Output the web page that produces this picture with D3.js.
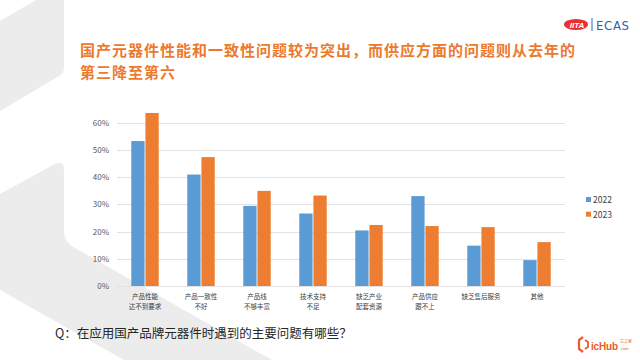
<!DOCTYPE html>
<html><head><meta charset="utf-8">
<script src="https://cdn.jsdelivr.net/npm/d3@7"></script>
<style>
html,body{margin:0;padding:0;background:#fff;}
svg{display:block;}
</style></head>
<body>
<svg id="c" width="640" height="360"></svg>
<script>
const categories = [
  ["产品性能","达不到要求"],
  ["产品一致性","不好"],
  ["产品线","不够丰富"],
  ["技术支持","不足"],
  ["缺乏产业","配套资源"],
  ["产品供应","跟不上"],
  ["缺乏售后服务"],
  ["其他"]
];
const seriesNames = ["2022","2023"];
const values2022 = [0.532, 0.409, 0.294, 0.266, 0.204, 0.330, 0.148, 0.095];
const values2023 = [0.635, 0.473, 0.349, 0.332, 0.224, 0.220, 0.216, 0.161];
const yTicks = [0, 0.1, 0.2, 0.3, 0.4, 0.5, 0.6];
const colors = ["#5B9BD5", "#ED7D31"];
const titleLines = ["国产元器件性能和一致性问题较为突出，而供应方面的问题则从去年的", "第三降至第六"];
const question = "Q：在应用国产品牌元器件时遇到的主要问题有哪些？";

const svg = d3.select("#c");
const font = "'Noto Sans CJK SC','Noto Sans',sans-serif";

// background decoration
const bg = svg.append("g").attr("fill", "#ececec");
bg.append("path").attr("d", "M36,0 L64,0 L64,68 Q64,73 59,76 L0,111 L0,21 Z");
bg.append("path").attr("d", "M0,194 L55,164 Q64,160 64,170 L64,232 Q64,242 75,248 L272,360 L124,360 L0,290 Z");

// title
const title = svg.append("g").attr("font-family", font).attr("font-size", 15)
  .attr("font-weight", "bold").attr("fill", "#EC7A2E").attr("letter-spacing", 1);
titleLines.forEach((t, i) => {
  title.append("text").attr("x", 80).attr("y", 56 + i * 21.5).text(t);
});

// logo top-right
const logo = svg.append("g");
logo.append("ellipse").attr("cx", 576).attr("cy", 24.5).attr("rx", 12).attr("ry", 5.5).attr("fill", "#E8312F");
logo.append("text").attr("x", 577).attr("y", 27.5).attr("text-anchor", "middle")
  .attr("font-family", "'Liberation Sans',Arial,sans-serif").attr("font-size", 8).attr("font-weight", "bold")
  .attr("font-style", "italic").attr("fill", "#fff").text("IITA");
logo.append("line").attr("x1", 592).attr("x2", 592).attr("y1", 18).attr("y2", 31).attr("stroke", "#2B6CB5").attr("stroke-width", 1);
logo.append("text").attr("x", 596).attr("y", 30).attr("font-family", "'DejaVu Sans Condensed','DejaVu Sans',sans-serif")
  .attr("font-size", 13).attr("fill", "#2B5FB3").attr("textLength", 33).text("ECAS");

// chart
const x0 = d3.scaleBand().domain(d3.range(categories.length)).range([117, 565]).paddingInner(0.51).paddingOuter(0.255);
const x1 = d3.scaleBand().domain(seriesNames).range([0, x0.bandwidth()]).paddingInner(0.06);
const y = d3.scaleLinear().domain([0, 0.6]).range([286, 122.5]);

const grid = svg.append("g");
grid.selectAll("line").data(yTicks).join("line")
  .attr("x1", 117).attr("x2", 565)
  .attr("y1", d => Math.round(y(d)) + 0.5).attr("y2", d => Math.round(y(d)) + 0.5)
  .attr("stroke", "#e2e2e2").attr("stroke-width", 1);

const yAxis = d3.axisLeft(y).tickValues(yTicks).tickFormat(d3.format(".0%")).tickSize(0).tickPadding(8);
const ya = svg.append("g").attr("transform", "translate(117,0)").call(yAxis);
ya.select(".domain").remove();
ya.selectAll("text").attr("font-family", font).attr("font-size", 8).attr("fill", "#595959");

const data = categories.map((c, i) => ({i, vals: [values2022[i], values2023[i]]}));
const groups = svg.append("g").selectAll("g").data(data).join("g")
  .attr("transform", d => `translate(${x0(d.i)},0)`);
groups.selectAll("rect").data(d => d.vals.map((v, k) => ({v, k}))).join("rect")
  .attr("x", d => x1(seriesNames[d.k]))
  .attr("width", x1.bandwidth())
  .attr("y", d => y(d.v))
  .attr("height", d => y(0) - y(d.v))
  .attr("fill", d => colors[d.k]);

// x axis labels
const xa = svg.append("g");
categories.forEach((c, i) => {
  const cx = x0(i) + x0.bandwidth() / 2;
  const t = xa.append("text").attr("text-anchor", "middle")
    .attr("font-family", font).attr("font-size", 6.5).attr("fill", "#404040");
  c.forEach((line, j) => {
    t.append("tspan").attr("x", cx).attr("y", 298.5 + j * 10).text(line);
  });
});

// legend
const lg = svg.append("g");
seriesNames.forEach((s, k) => {
  lg.append("rect").attr("x", 586).attr("y", 197 + k * 14.7).attr("width", 5).attr("height", 5).attr("fill", colors[k]);
  lg.append("text").attr("x", 593).attr("y", 203 + k * 14.7).attr("font-family", font)
    .attr("font-size", 8.5).attr("fill", "#404040").text(s);
});

// question
svg.append("text").attr("x", 55).attr("y", 337.5).attr("font-family", font)
  .attr("font-size", 12.5).attr("fill", "#262626").text(question);

// icHub logo
const ic = svg.append("g");
ic.append("path").attr("d", "M583,337 L579,340 L579,349 L583,352").attr("fill", "none").attr("stroke", "#EE5A28").attr("stroke-width", 2.2);
ic.append("path").attr("d", "M585,340 L588,342 L588,347 L585,349").attr("fill", "none").attr("stroke", "#EE5A28").attr("stroke-width", 1.8);
ic.append("text").attr("x", 591).attr("y", 349.5).attr("font-family", "'Liberation Sans',Arial,sans-serif")
  .attr("font-size", 10).attr("font-weight", "bold").attr("fill", "#EE5A28").attr("textLength", 27).text("icHub");
const small = ic.append("text").attr("font-size", 4).attr("fill", "#EE5A28");
small.append("tspan").attr("x", 620).attr("y", 343).attr("font-family", font).text("芯之家");
small.append("tspan").attr("x", 620).attr("y", 349.5).attr("font-family", "'Liberation Sans',Arial,sans-serif").text(".com");
</script>
</body></html>
